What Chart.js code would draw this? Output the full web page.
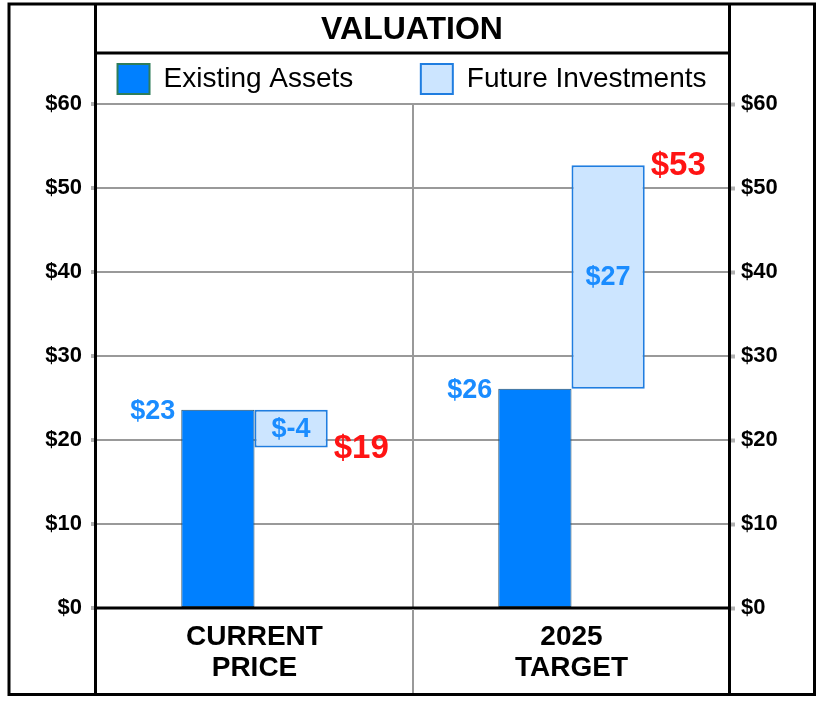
<!DOCTYPE html>
<html>
<head>
<meta charset="utf-8">
<title>Valuation</title>
<script src="https://cdn.jsdelivr.net/npm/chart.js@4.4.1/dist/chart.umd.min.js"></script>
<style>
  html, body { margin: 0; padding: 0; background: #fff; }
  canvas { display: block; }
</style>
</head>
<body>
<canvas id="chart" width="824" height="704"></canvas>
<script>
// values
const categories = [["CURRENT", "PRICE"], ["2025", "TARGET"]];
const existingAssets = [23.6, 26.1];
const futureChange = [-4.5, 26.6];
const existingText = ["$23", "$26"];
const changeText = ["$-4", "$27"];
const totalText = ["$19", "$53"];
const yMin = 0;
const yMax = 60;
const yStep = 10;

const FONT = "'Liberation Sans', Arial, Helvetica, sans-serif";
const BLUE = "#0080ff";
const LIGHT = "#cce5ff";
const LABEL_BLUE = "#1a8cff";
const RED = "#ff1414";
const GRID = "#999999";

function $(id) {
  const el = document.getElementById(id);
  if (!el) throw new Error(`Missing element #${id}`);
  return el;
}

function money(v) {
  return `$${v}`;
}

const framePlugin = {
  id: "frame",
  beforeDraw(chart) {
    const { ctx, width, height } = chart;
    ctx.save();
    ctx.fillStyle = "#fff";
    ctx.fillRect(0, 0, width, height);
    ctx.restore();
  },
  afterDatasetsDraw(chart) {
    const { ctx, chartArea: area } = chart;
    const ys = chart.scales.y;
    const y0 = ys.getPixelForValue(0);

    ctx.save();
    ctx.strokeStyle = "#000";
    ctx.lineWidth = 3;
    ctx.beginPath();
    ctx.moveTo(area.left, y0);
    ctx.lineTo(area.right, y0);
    ctx.stroke();

    const base = chart.getDatasetMeta(0).data;
    const top = chart.getDatasetMeta(1).data;
    ctx.textBaseline = "middle";
    base.forEach((bar, i) => {
      ctx.font = `bold 27px ${FONT}`;
      ctx.fillStyle = LABEL_BLUE;
      ctx.textAlign = "right";
      ctx.fillText(existingText[i], bar.x - bar.width / 2 - 6, bar.y + 2);

      const fut = top[i];
      ctx.textAlign = "center";
      ctx.fillText(changeText[i], fut.x, (fut.y + fut.base) / 2 + 1);

      const totalY = ys.getPixelForValue(existingAssets[i] + futureChange[i]);
      ctx.font = `bold 33px ${FONT}`;
      ctx.fillStyle = RED;
      ctx.textAlign = "left";
      ctx.fillText(totalText[i], fut.x + fut.width / 2 + 6, totalY + 1);
    });
    ctx.restore();
  },
  afterDraw(chart) {
    const { ctx, chartArea: area, height } = chart;
    const xs = chart.scales.x;
    const split = (xs.getPixelForValue(0) + xs.getPixelForValue(1)) / 2;
    const bottom = height - 9.5;

    ctx.save();
    ctx.strokeStyle = GRID;
    ctx.lineWidth = 2;
    ctx.beginPath();
    ctx.moveTo(split, area.bottom + 1);
    ctx.lineTo(split, bottom);
    ctx.stroke();

    ctx.strokeStyle = "#000";
    ctx.lineWidth = 3;
    ctx.strokeRect(9, 4, chart.width - 9 - 9.5, bottom - 4);

    ctx.beginPath();
    ctx.moveTo(area.left - 0.5, 4);
    ctx.lineTo(area.left - 0.5, bottom);
    ctx.moveTo(area.right - 0.5, 4);
    ctx.lineTo(area.right - 0.5, bottom);
    const sep = chart.legend.top + 2;
    ctx.moveTo(area.left, sep);
    ctx.lineTo(area.right, sep);
    ctx.stroke();
    ctx.restore();
  },
};

function main() {
  const existingBars = existingAssets.map((v) => [0, v]);
  const futureBars = existingAssets.map((v, i) => [v, v + futureChange[i]]);

  const tickFont = { family: FONT, size: 22, weight: "bold" };

  new Chart($("chart"), {
    type: "bar",
    data: {
      labels: categories,
      datasets: [
        {
          label: "Existing Assets",
          data: existingBars,
          backgroundColor: BLUE,
          borderColor: "#2b4f66",
          borderWidth: 1,
          borderSkipped: false,
        },
        {
          label: "Future Investments",
          data: futureBars,
          backgroundColor: LIGHT,
          borderColor: "#1f7de0",
          borderWidth: 2,
          borderSkipped: false,
        },
      ],
    },
    options: {
      responsive: false,
      animation: false,
      categoryPercentage: 0.462,
      barPercentage: 1.0,
      layout: { padding: 0 },
      plugins: {
        tooltip: { enabled: false },
        title: {
          display: true,
          text: "VALUATION",
          color: "#000",
          font: { family: FONT, size: 32, weight: "bold", lineHeight: 1.0 },
          padding: { top: 14, bottom: 5 },
        },
        legend: {
          display: true,
          labels: {
            color: "#000",
            font: { family: FONT, size: 28 },
            boxWidth: 32,
            boxHeight: 30,
            padding: 13,
            generateLabels(chart) {
              const items = Chart.defaults.plugins.legend.labels.generateLabels(chart);
              items[0].text += "       ";
              items[0].strokeStyle = "#2f7d5a";
              items[0].lineWidth = 2;
              items[1].lineWidth = 2;
              return items;
            },
          },
        },
      },
      scales: {
        x: {
          border: { display: false },
          grid: { offset: true, color: GRID, lineWidth: 2, drawTicks: false },
          ticks: {
            color: "#000",
            padding: 14,
            font: { family: FONT, size: 28, weight: "bold", lineHeight: 1.1 },
          },
          afterFit(scale) {
            scale.height = 96;
          },
        },
        y: {
          position: "left",
          min: yMin,
          max: yMax,
          border: { display: false },
          grid: { color: GRID, lineWidth: 2, tickLength: 5, tickColor: "#b0b0b0", tickWidth: 4 },
          ticks: { stepSize: yStep, color: "#000", padding: 9, font: tickFont, callback: money },
          afterFit(scale) {
            scale.width = 96;
          },
        },
        y2: {
          position: "right",
          min: yMin,
          max: yMax,
          border: { display: false },
          grid: { drawOnChartArea: false, tickLength: 5, tickColor: "#b0b0b0", tickWidth: 4 },
          ticks: { stepSize: yStep, color: "#000", padding: 6, font: tickFont, callback: money },
          afterFit(scale) {
            scale.width = 94;
          },
        },
      },
    },
    plugins: [framePlugin],
  });
}

document.addEventListener("DOMContentLoaded", main);
</script>
</body>
</html>
